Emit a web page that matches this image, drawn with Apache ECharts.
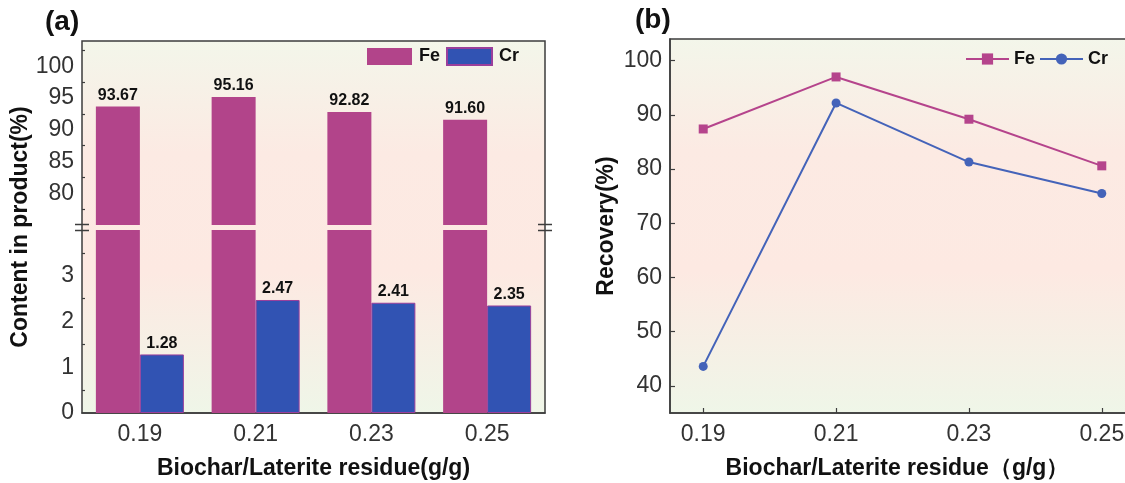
<!DOCTYPE html>
<html>
<head>
<meta charset="utf-8">
<script src="https://cdn.jsdelivr.net/npm/echarts@6/dist/echarts.min.js"></script>
<style>
  html, body { margin: 0; padding: 0; background: #fff; }
  #main { width: 1125px; height: 483px; }
</style>
</head>
<body>
<div id="main"></div>
<script>
// data
const ratios = ['0.19', '0.21', '0.23', '0.25'];
const ratioValues = [0.19, 0.21, 0.23, 0.25];
const feContent = [93.67, 95.16, 92.82, 91.60];
const crContent = [1.28, 2.47, 2.41, 2.35];
const feRecovery = [87.4, 97.0, 89.2, 80.6];
const crRecovery = [43.6, 92.2, 81.3, 75.5];
const recoveryTicks = [40, 50, 60, 70, 80, 90, 100];
const recoveryMinorTicks = [45, 55, 65, 75, 85, 95];

// layout
const FONT = '"Liberation Sans", Arial, sans-serif';
const FRAME = '#3d3d3d';
const FE_COLOR = '#b2448a';
const CR_COLOR = '#3153b3';
const A = { left: 82, top: 41, width: 463, height: 372 };
const breakTop = 225, breakBottom = 230;
const B = { left: 670, top: 39, width: 465, height: 374 };

const bg = {
  type: 'linear', x: 0, y: 0, x2: 0, y2: 1,
  colorStops: [
    { offset: 0, color: '#f3f6ea' },
    { offset: 0.3, color: '#fceae3' },
    { offset: 0.62, color: '#fde9e2' },
    { offset: 1, color: '#eff6e8' }
  ]
};

const tickLabel = { fontFamily: FONT, fontSize: 23, color: '#333' };
const axisName = { fontFamily: FONT, fontSize: 23, fontWeight: 'bold', color: '#111' };
const tickLine = { color: FRAME, width: 1.2 };
const pairs = (ys) => ratioValues.map((x, i) => [x, ys[i]]);

const chart = echarts.init(document.getElementById('main'));

chart.setOption({
  animation: false,
  title: [
    { text: '(a)', left: 40, top: 3, textStyle: { fontFamily: FONT, fontSize: 28, fontWeight: 'bold', color: '#111' } },
    { text: '(b)', left: 630, top: 1, textStyle: { fontFamily: FONT, fontSize: 28, fontWeight: 'bold', color: '#111' } }
  ],
  legend: [
    {
      left: 367, top: 47, padding: 0, itemWidth: 45, itemHeight: 17, itemGap: 6, icon: 'rect',
      data: ['Fe', 'Cr'],
      textStyle: { fontFamily: FONT, fontSize: 18, fontWeight: 'bold', color: '#111', padding: [0, 0, 0, 2] }
    },
    {
      left: 965, top: 50, padding: 0, itemWidth: 43, itemHeight: 14, itemGap: 4,
      data: ['Fe line', 'Cr line'],
      formatter: (name) => name.split(' ')[0],
      textStyle: { fontFamily: FONT, fontSize: 18, fontWeight: 'bold', color: '#111' }
    }
  ],
  grid: [
    { left: A.left, top: A.top, width: A.width, height: A.height, show: true, outerBoundsMode: 'none',
      backgroundColor: bg, borderColor: FRAME, borderWidth: 1.5 },
    { left: A.left, top: A.top, width: A.width, height: breakTop - A.top, outerBoundsMode: 'none' },
    { left: A.left, top: breakBottom, width: A.width, height: A.top + A.height - breakBottom, outerBoundsMode: 'none' },
    { left: B.left, top: B.top, width: B.width, height: B.height, show: true, outerBoundsMode: 'none',
      backgroundColor: bg, borderColor: FRAME, borderWidth: 1.5 }
  ],
  xAxis: [
    { gridIndex: 0, type: 'category', data: ratios, show: false },
    { gridIndex: 1, type: 'category', data: ratios, show: false },
    {
      gridIndex: 2, type: 'category', data: ratios,
      name: 'Biochar/Laterite residue(g/g)', nameLocation: 'middle', nameGap: 44,
      nameTextStyle: axisName,
      axisLine: { lineStyle: { color: FRAME, width: 1.5 } },
      axisTick: { alignWithLabel: true, inside: true, length: 5, lineStyle: tickLine },
      axisLabel: Object.assign({ margin: 10 }, tickLabel)
    },
    {
      gridIndex: 2, type: 'category', data: ratios, position: 'bottom',
      axisLine: { show: false },
      axisTick: { alignWithLabel: false, inside: true, length: 3, lineStyle: tickLine },
      axisLabel: { show: false }
    },
    {
      gridIndex: 3, type: 'value', min: 0.185, max: 0.255,
      name: 'Biochar/Laterite residue（g/g）', nameLocation: 'middle', nameGap: 44,
      nameTextStyle: Object.assign({ padding: [0, 10, 0, 0] }, axisName),
      axisLine: { lineStyle: { color: FRAME, width: 1.5 } },
      axisTick: { inside: true, length: 5, lineStyle: tickLine, customValues: ratioValues },
      axisLabel: Object.assign({ margin: 10, customValues: ratioValues, formatter: (v) => v.toFixed(2) }, tickLabel),
      splitLine: { show: false }
    }
  ],
  yAxis: [
    {
      gridIndex: 0, type: 'value', min: 0, max: 1,
      name: 'Content in product(%)', nameLocation: 'middle', nameGap: 50,
      nameTextStyle: axisName,
      axisLine: { show: false }, axisTick: { show: false }, axisLabel: { show: false },
      splitLine: { show: false }
    },
    {
      gridIndex: 1, type: 'value', min: 75, max: 104, interval: 5,
      axisLine: { show: false },
      axisTick: { inside: true, length: 5, lineStyle: tickLine },
      minorTick: { show: true, splitNumber: 2, length: 3, lineStyle: tickLine },
      axisLabel: Object.assign({ margin: 8, formatter: (v) => (v % 5 === 0 && v > 75 ? String(v) : '') }, tickLabel),
      splitLine: { show: false }
    },
    {
      gridIndex: 2, type: 'value', min: 0, max: 4, interval: 1,
      axisLine: { show: false },
      axisTick: { inside: true, length: 5, lineStyle: tickLine },
      minorTick: { show: true, splitNumber: 2, length: 3, lineStyle: tickLine },
      axisLabel: Object.assign({ margin: 8, formatter: (v) => (v < 4 ? String(v) : '') }, tickLabel),
      splitLine: { show: false }
    },
    {
      gridIndex: 3, type: 'value', min: 35, max: 104,
      name: 'Recovery(%)', nameLocation: 'middle', nameGap: 52,
      nameTextStyle: axisName,
      axisLine: { lineStyle: { color: FRAME, width: 1.5 } },
      axisTick: { inside: true, length: 5, lineStyle: tickLine, customValues: recoveryTicks },
      axisLabel: Object.assign({ margin: 8, customValues: recoveryTicks }, tickLabel),
      splitLine: { show: false }
    },
    {
      gridIndex: 3, type: 'value', min: 35, max: 104,
      axisLine: { show: false },
      axisTick: { inside: true, length: 3, lineStyle: tickLine, customValues: recoveryMinorTicks },
      axisLabel: { show: false },
      splitLine: { show: false }
    }
  ],
  graphic: [A.left, A.left + A.width].flatMap((x) => [breakTop - 0.5, breakBottom + 0.5].map((y) => ({
    type: 'line', z: 100,
    shape: { x1: x - 7, y1: y, x2: x + 7, y2: y },
    style: { stroke: FRAME, lineWidth: 1.5 }
  }))),
  series: [
    {
      name: 'Fe', type: 'bar', xAxisIndex: 1, yAxisIndex: 1, data: feContent,
      barWidth: 44, barGap: '0%', itemStyle: { color: FE_COLOR },
      label: { show: true, position: 'top', distance: 3, formatter: (p) => p.value.toFixed(2),
        fontFamily: FONT, fontSize: 16, fontWeight: 'bold', color: '#111' }
    },
    {
      name: 'Cr', type: 'bar', xAxisIndex: 1, yAxisIndex: 1, data: crContent,
      barWidth: 44, barGap: '0%', itemStyle: { color: CR_COLOR, borderColor: '#9a3f9b', borderWidth: 1 }
    },
    {
      name: 'Fe', type: 'bar', xAxisIndex: 2, yAxisIndex: 2, data: feContent,
      barWidth: 44, barGap: '0%', itemStyle: { color: FE_COLOR }
    },
    {
      name: 'Cr', type: 'bar', xAxisIndex: 2, yAxisIndex: 2, data: crContent,
      barWidth: 44, barGap: '0%', itemStyle: { color: CR_COLOR, borderColor: '#9a3f9b', borderWidth: 1 },
      label: { show: true, position: 'top', distance: 3, formatter: (p) => p.value.toFixed(2),
        fontFamily: FONT, fontSize: 16, fontWeight: 'bold', color: '#111' }
    },
    {
      name: 'Fe line', type: 'line', xAxisIndex: 4, yAxisIndex: 3, data: pairs(feRecovery),
      symbol: 'rect', symbolSize: 9, color: '#b5448c', lineStyle: { width: 2 }
    },
    {
      name: 'Cr line', type: 'line', xAxisIndex: 4, yAxisIndex: 3, data: pairs(crRecovery),
      symbol: 'circle', symbolSize: 9, color: '#4463b9', lineStyle: { width: 2 }
    }
  ]
});
</script>
</body>
</html>
